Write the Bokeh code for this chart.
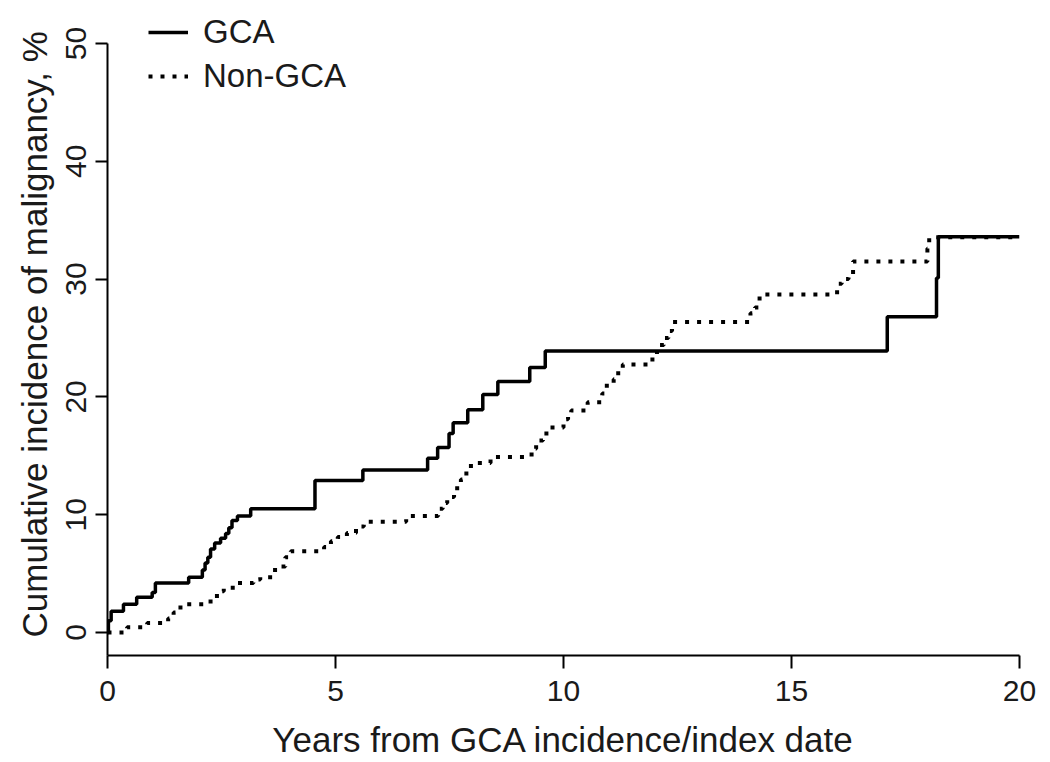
import math
from bokeh.plotting import figure
from bokeh.models import FixedTicker, Legend, LegendItem, Title, Range1d
from bokeh.embed import file_html
from bokeh.resources import INLINE

# --- data ---
t_gca = [0, 0.02, 0.08, 0.35, 0.64, 0.98, 1.05, 1.78, 2.08, 2.14, 2.2, 2.26, 2.35, 2.48, 2.59,
         2.66, 2.73, 2.85, 3.14, 4.55, 5.6, 7.02, 7.24, 7.49, 7.58, 7.9, 8.23, 8.56, 9.26, 9.6,
         17.1, 18.18, 18.22, 20]
v_gca = [0, 1.0, 1.8, 2.4, 3.0, 3.4, 4.2, 4.7, 5.3, 5.9, 6.4, 7.1, 7.6, 8.0, 8.4,
         8.9, 9.5, 9.9, 10.5, 12.9, 13.8, 14.8, 15.7, 16.9, 17.8, 18.9, 20.2, 21.3, 22.5, 23.9,
         26.8, 30.1, 33.6, 33.6]

t_ngca = [0, 0.43, 0.87, 1.33, 1.45, 1.6, 2.26, 2.4, 2.55, 2.85, 3.2, 3.35, 3.62, 3.75, 3.9,
          4.02, 4.75, 4.9, 5.05, 5.25, 5.45, 5.62, 6.55, 7.25, 7.35, 7.45, 7.6, 7.75, 7.87, 7.97,
          8.4, 9.3, 9.4, 9.55, 9.7, 10.0, 10.1, 10.17, 10.53, 10.85, 10.95, 11.1, 11.2, 11.3, 11.95,
          12.05, 12.2, 12.3, 12.38, 14.1, 14.2, 14.3, 16.0, 16.1, 16.25, 16.35, 17.98, 18.02, 20]
v_ngca = [0, 0.45, 0.8, 1.2, 1.7, 2.4, 2.9, 3.5, 3.8, 4.2, 4.5, 4.7, 5.3, 5.6, 6.4,
          6.9, 7.25, 7.75, 8.1, 8.45, 9.0, 9.4, 9.9, 10.5, 11.0, 11.5, 12.25, 13.0, 13.8, 14.4,
          14.9, 15.6, 16.3, 16.9, 17.4, 18.1, 18.5, 18.85, 19.55, 20.3, 21.2, 21.5, 22.4, 22.75, 23.5,
          24.4, 25.0, 25.6, 26.35, 27.1, 27.6, 28.7, 29.6, 30.0, 30.3, 31.5, 32.6, 33.55, 33.55]

x_ticks = [0, 5, 10, 15, 20]
y_ticks = [0, 10, 20, 30, 40, 50]
series_labels = ["GCA", "Non-GCA"]
x_title = "Years from GCA incidence/index date"
y_title = "Cumulative incidence of malignancy, %"

FONT = "Liberation Sans"
TXT = "#1a1a1a"

p = figure(frame_width=912, frame_height=647,
           min_border_left=107, min_border_right=23, min_border_top=8, min_border_bottom=99,
           x_range=Range1d(0, 20), y_range=Range1d(-1.95, 52.97),
           output_backend="svg", toolbar_location=None,
           background_fill_color="white", border_fill_color="white")
p.outline_line_color = None
p.grid.visible = False

r1 = p.step(t_gca, v_gca, mode="after", line_color="black", line_width=3.5)
r2 = p.step(t_ngca, v_ngca, mode="after", line_color="black", line_width=4, line_dash="4 8")

for ax in (p.xaxis[0], p.yaxis[0]):
    ax.axis_line_width = 2
    ax.axis_line_color = "black"
    ax.major_tick_line_width = 2
    ax.major_tick_line_color = "black"
    ax.major_tick_in = 0
    ax.minor_tick_line_color = None
    ax.major_label_text_font = FONT
    ax.major_label_text_color = TXT
    ax.axis_label_text_font = FONT
    ax.axis_label_text_color = TXT
    ax.axis_label_text_font_style = "normal"

p.xaxis.ticker = FixedTicker(ticks=x_ticks)
p.yaxis.ticker = FixedTicker(ticks=y_ticks)
p.yaxis.bounds = (-1.95, 50)
p.xaxis.major_tick_out = 13
p.yaxis.major_tick_out = 12
p.xaxis.major_label_text_font_size = "30px"
p.yaxis.major_label_text_font_size = "30px"
p.xaxis.major_label_standoff = 12
p.yaxis.major_label_standoff = 9
p.yaxis.major_label_orientation = "vertical"
p.xaxis.axis_label = x_title
p.xaxis.axis_label_text_font_size = "35px"
p.xaxis.axis_label_standoff = 16

ytitle = Title(text=y_title, align="left", text_font=FONT, text_font_size="35px",
               text_font_style="normal", text_color=TXT, offset=18, standoff=20)
p.add_layout(ytitle, "left")

legend = Legend(items=[LegendItem(label=series_labels[0], renderers=[r1]),
                       LegendItem(label=series_labels[1], renderers=[r2])],
                location=(41, 560), orientation="vertical",
                glyph_width=40, glyph_height=36, label_height=36, label_standoff=15,
                spacing=6, padding=0, margin=0,
                label_text_font=FONT, label_text_font_size="33px", label_text_color=TXT,
                border_line_color=None, background_fill_alpha=0)
p.add_layout(legend)

open("out.html", "w").write(file_html(p, INLINE))
